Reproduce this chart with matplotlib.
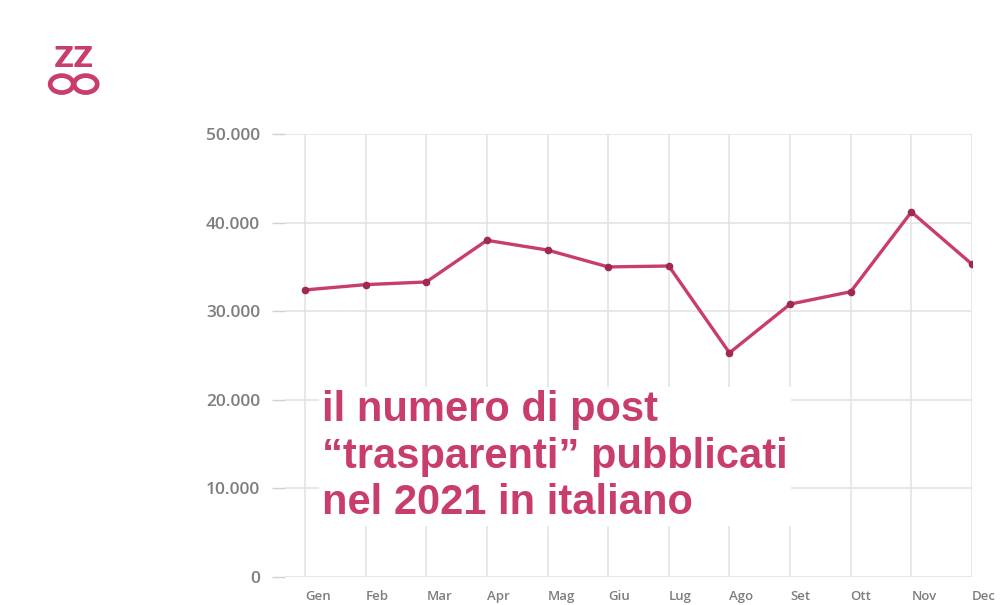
import matplotlib.pyplot as plt
from matplotlib.patches import Ellipse
from matplotlib.ticker import FuncFormatter

months = ['Gen', 'Feb', 'Mar', 'Apr', 'Mag', 'Giu', 'Lug', 'Ago', 'Set', 'Ott', 'Nov', 'Dec']
posts = [32400, 33000, 33300, 38000, 36900, 35000, 35100, 25300, 30800, 32200, 41200, 35300]
y_ticks = [0, 10000, 20000, 30000, 40000, 50000]

pink = '#c83d6c'
dark = '#9e2a50'
grey = '#7e7e7e'

plt.rcParams['font.family'] = ['Open Sans', 'DejaVu Sans']

fig = plt.figure(figsize=(10, 6.05), dpi=100)
ax = fig.add_axes([0.285, 0.0463, 0.687, 0.7322])

x = list(range(len(months)))
ax.plot(x, posts, color=pink, linewidth=2.4, marker='o', markersize=4.5,
        markerfacecolor=dark, markeredgecolor=dark, zorder=3)

ax.set_xlim(-0.33, 11.0)
ax.set_ylim(0, 50000)
ax.set_yticks(y_ticks)
ax.yaxis.set_major_formatter(FuncFormatter(lambda v, p: f'{int(v):,}'.replace(',', '.')))
ax.set_xticks(x)
ax.set_xticklabels(months, ha='left', fontweight='semibold')
for lab in ax.get_yticklabels():
    lab.set_fontweight('semibold')

ax.grid(True, color='#e4e4e4', linewidth=1.2)
ax.set_axisbelow(True)
for s in ax.spines.values():
    s.set_visible(False)
ax.tick_params(axis='y', length=9.5, width=1, color='#d0d0d0', labelcolor=grey,
               labelsize=12.5, pad=8.5)
ax.tick_params(axis='x', length=0, labelcolor=grey, labelsize=9.5, pad=9.5)

fig.text(0.322, 0.245, 'il numero di post\n\u201ctrasparenti\u201d pubblicati\nnel 2021 in italiano',
         fontsize=30, fontweight='bold', family='Liberation Sans', color=pink,
         ha='left', va='center', linespacing=1.21,
         bbox=dict(facecolor='white', edgecolor='none', pad=2))

# logo: "ZZ" over an infinity sign
fig.text(0.0735, 0.889, 'ZZ', fontsize=20, fontweight='bold', family='DejaVu Sans',
         color=pink, ha='center', va='baseline')
for cx in (0.0617, 0.0857):
    fig.patches.append(Ellipse((cx, 0.861), 0.023, 0.028, transform=fig.transFigure,
                               facecolor='none', edgecolor=pink, linewidth=3.4))

fig.savefig('out.png', dpi=100)
